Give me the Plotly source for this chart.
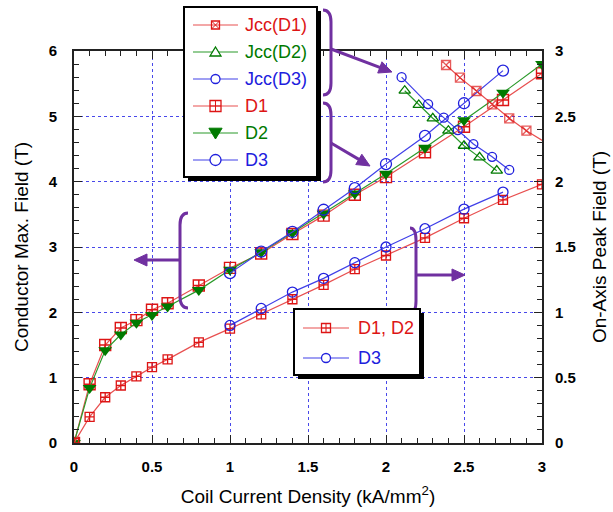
import plotly.graph_objects as go

# ---------------- data ----------------
x_cur = [0, 0.1, 0.2, 0.3, 0.4, 0.5, 0.6, 0.8, 1.0, 1.2, 1.4, 1.6, 1.8, 2.0, 2.25, 2.5, 2.75, 3.0]
d1_max = [0, 0.9, 1.5, 1.76, 1.88, 2.04, 2.14, 2.41, 2.68, 2.9, 3.2, 3.48, 3.8, 4.07, 4.45, 4.84, 5.25, 5.66]
d2_max = [0, 0.84, 1.42, 1.66, 1.84, 1.96, 2.09, 2.34, 2.65, 2.92, 3.22, 3.51, 3.82, 4.12, 4.52, 4.94, 5.36, 5.8]
x_d3 = [1.0, 1.2, 1.4, 1.6, 1.8, 2.0, 2.25, 2.5, 2.75]
d3_max = [2.6, 2.93, 3.23, 3.57, 3.9, 4.27, 4.7, 5.2, 5.7]

d12_axis = [0, 0.2, 0.35, 0.44, 0.51, 0.58, 0.64, 0.77, 0.875, 0.985, 1.10, 1.21, 1.33, 1.435, 1.57, 1.72, 1.86, 1.98]
d3_axis = [0.90, 1.03, 1.155, 1.26, 1.38, 1.50, 1.64, 1.79, 1.92]

jcc1_x = [2.385, 2.474, 2.58, 2.68, 2.79, 2.90, 3.01]
jcc1_y = [2.893, 2.796, 2.694, 2.592, 2.485, 2.39, 2.31]
jcc2_x = [2.12, 2.21, 2.30, 2.40, 2.50, 2.60, 2.71]
jcc2_y = [2.696, 2.587, 2.485, 2.39, 2.275, 2.186, 2.084]
jcc3_x = [2.10, 2.27, 2.37, 2.46, 2.56, 2.68, 2.79]
jcc3_y = [2.80, 2.594, 2.49, 2.395, 2.288, 2.19, 2.09]

legend1_labels = ["Jcc(D1)", "Jcc(D2)", "Jcc(D3)", "D1", "D2", "D3"]
legend2_labels = ["D1, D2", "D3"]

# ---------------- style ----------------
RED = "#DD1515"
RED_L = "#E85050"
GREEN = "#007A00"
GREEN_L = "#2A9A2A"
BLUE = "#2020DD"
BLUE_L = "#4040E8"
PURPLE = "#7030A0"
FONT = "Arial, Liberation Sans, sans-serif"

fig = go.Figure()


def add(x, y, ax, color, lcolor, symbol, size, lw=1.3):
    mk = dict(symbol=symbol, size=size, color=color)
    if "open" in symbol:
        mk["line"] = dict(width=lw, color=color)
    fig.add_trace(go.Scatter(x=x, y=y, yaxis=ax, mode="lines+markers", showlegend=False,
                             line=dict(color=lcolor, width=1.2), marker=mk))


add(jcc1_x, jcc1_y, "y2", RED, RED_L, "square-x-open", [9] * (len(jcc1_x) - 1) + [0])
add(jcc2_x, jcc2_y, "y2", GREEN, GREEN_L, "triangle-up-open", 10)
add(jcc3_x, jcc3_y, "y2", BLUE, BLUE_L, "circle-open", 9)
add(x_cur, d1_max, "y", RED, RED_L, "square-cross-open", 11, 1.4)
add(x_cur, d2_max, "y", GREEN, GREEN_L, "triangle-down", 12)
add(x_d3, d3_max, "y", BLUE, BLUE_L, "circle-open", 11)
add(x_cur, d12_axis, "y2", RED, RED_L, "square-cross-open", 9)
add(x_d3, d3_axis, "y2", BLUE, BLUE_L, "circle-open", 10)

# ---------------- layout helpers (pixel -> paper) ----------------
L, R, T, B = 74, 542, 51, 443
W, H = 613, 512


def pxx(x):
    return (x - L) / (R - L)


def pyy(y):
    return (B - y) / (B - T)


def P(pts, close=False):
    s = "M " + " L ".join("%f,%f" % (pxx(a), pyy(b)) for a, b in pts)
    return s + (" Z" if close else "")


def pshape(path, color, width=1.3, fill=None):
    d = dict(type="path", xref="paper", yref="paper", path=path,
             line=dict(color=color, width=width), layer="above")
    if fill:
        d["fillcolor"] = fill
    return d


def rect(x0, y0, x1, y1, fill, lc=None, lw=0):
    return dict(type="rect", xref="paper", yref="paper", x0=pxx(x0), x1=pxx(x1), y0=pyy(y1), y1=pyy(y0),
                fillcolor=fill, line=dict(color=lc or fill, width=lw), layer="above")


def brace(x0, y0, y1, depth, r=12):
    xs = x0 + depth
    pts = "M %f,%f Q %f,%f %f,%f L %f,%f Q %f,%f %f,%f" % (
        pxx(x0), pyy(y0), pxx(xs), pyy(y0), pxx(xs), pyy(y0 + r),
        pxx(xs), pyy(y1 - r), pxx(xs), pyy(y1), pxx(x0), pyy(y1))
    return pshape(pts, PURPLE, 3)


def arrow(tx, ty, hx, hy, head=13, half=6):
    dx, dy = hx - tx, hy - ty
    n = (dx * dx + dy * dy) ** 0.5
    ux, uy = dx / n, dy / n
    bx, by = hx - ux * head, hy - uy * head
    nx, ny = -uy, ux
    shaft = pshape(P([(tx, ty), (bx + ux * 2, by + uy * 2)]), PURPLE, 3)
    tip = pshape(P([(hx, hy), (bx + nx * half, by + ny * half), (bx - nx * half, by - ny * half)], True),
                 PURPLE, 1, PURPLE)
    return [shaft, tip]


def glyph(symbol, cx, cy, s, color):
    h = s / 2.0
    out = []
    if symbol.startswith("square"):
        out.append(pshape(P([(cx - h, cy - h), (cx + h, cy - h), (cx + h, cy + h), (cx - h, cy + h)], True),
                          color, 1.3))
        if symbol == "square-x":
            out.append(pshape(P([(cx - h, cy - h), (cx + h, cy + h)]), color, 1))
            out.append(pshape(P([(cx - h, cy + h), (cx + h, cy - h)]), color, 1))
        else:
            out.append(pshape(P([(cx, cy - h), (cx, cy + h)]), color, 1))
            out.append(pshape(P([(cx - h, cy), (cx + h, cy)]), color, 1))
    elif symbol == "tri-up":
        out.append(pshape(P([(cx, cy - h), (cx + h * 1.1, cy + h * 0.8), (cx - h * 1.1, cy + h * 0.8)], True),
                          color, 1.3, "white"))
    elif symbol == "tri-down":
        out.append(pshape(P([(cx, cy + h), (cx + h * 1.1, cy - h * 0.8), (cx - h * 1.1, cy - h * 0.8)], True),
                          color, 1, color))
    else:
        out.append(dict(type="circle", xref="paper", yref="paper", x0=pxx(cx - h), x1=pxx(cx + h),
                        y0=pyy(cy + h), y1=pyy(cy - h), line=dict(color=color, width=1.3),
                        fillcolor="white", layer="above"))
    return out


shapes = [
    brace(323, 10, 95, 8),
    brace(323, 103, 182, 8),
    brace(188, 213, 308, -8),
    brace(410, 228, 313, 6),
]
for a in [(331, 49, 392, 72), (331, 143, 370, 166), (180, 260, 134, 260), (416, 275, 465, 275)]:
    shapes += arrow(*a)

annotations = []

leg1_style = [("square-x", 8, RED, RED_L), ("tri-up", 10, GREEN, GREEN_L), ("circle", 9, BLUE, BLUE_L),
              ("square-cross", 11, RED, RED_L), ("tri-down", 12, GREEN, GREEN_L), ("circle", 11, BLUE, BLUE_L)]
leg2_style = [("square-cross", 9, RED, RED_L), ("circle", 9, BLUE, BLUE_L)]

for (bx0, by0, bx1, by1, ys, lx0, lx1, tx, labels, styles) in [
        (184, 7, 317, 177, [25, 52, 79, 106, 133, 160], 193, 238, 243, legend1_labels, leg1_style),
        (294, 309, 420, 375, [328, 358], 303, 349, 356, legend2_labels, leg2_style)]:
    shapes.append(rect(bx0 + 4, by0 + 4, bx1 + 4, by1 + 4, "black"))
    shapes.append(rect(bx0, by0, bx1, by1, "white", "black", 2))
    for yy, lab, (sym, sz, mc, lc) in zip(ys, labels, styles):
        shapes.append(pshape(P([(lx0, yy), (lx1, yy)]), lc, 1.2))
        shapes += glyph(sym, (lx0 + lx1) / 2.0, yy, sz, mc)
        annotations.append(dict(x=pxx(tx), y=pyy(yy), xref="paper", yref="paper", text=lab,
                                showarrow=False, xanchor="left", yanchor="middle",
                                font=dict(family=FONT, size=18, color=mc)))

grid = dict(showgrid=True, gridcolor="rgba(40,40,230,0.85)", griddash="dot", gridwidth=1.3)
axline = dict(showline=True, linecolor="#222222", linewidth=2, zeroline=False)
tickfont = dict(family=FONT, size=15, color="black", weight="bold")
titlefont = dict(family=FONT, size=19, color="black")

fig.update_layout(
    width=W, height=H,
    margin=dict(l=L, r=W - R, t=T, b=H - B, autoexpand=False),
    paper_bgcolor="white", plot_bgcolor="white",
    font=dict(family=FONT),
    showlegend=False,
    shapes=shapes, annotations=annotations,
    xaxis=dict(range=[0, 3], dtick=0.5, ticks="inside", ticklen=8, tickwidth=1.3, tickcolor="#222",
               minor=dict(dtick=0.1, ticks="inside", ticklen=5, tickcolor="#222", showgrid=False),
               mirror="ticks", tickfont=tickfont, ticklabelstandoff=9,
               title=dict(text="Coil Current Density (kA/mm<sup>2</sup>)", font=titlefont, standoff=16),
               **grid, **axline),
    yaxis=dict(range=[0, 6], dtick=1, ticks="inside", ticklen=8, tickwidth=1.3, tickcolor="#222",
               minor=dict(dtick=0.2, ticks="inside", ticklen=5, tickcolor="#222", showgrid=False),
               tickfont=tickfont, ticklabelstandoff=12,
               title=dict(text="Conductor Max. Field (T)", font=titlefont, standoff=15),
               **grid, **axline),
    yaxis2=dict(range=[0, 3], dtick=0.5, overlaying="y", side="right", ticks="inside", ticklen=8,
                tickwidth=1.3, tickcolor="#222",
                minor=dict(dtick=0.1, ticks="inside", ticklen=5, tickcolor="#222"),
                showgrid=False, tickfont=tickfont, ticklabelstandoff=8,
                title=dict(text="On-Axis Peak Field (T)", font=titlefont, standoff=18),
                **axline),
)

fig.write_html("out.html", config={"displayModeBar": False},
               post_script="document.body.style.margin='0px';")
